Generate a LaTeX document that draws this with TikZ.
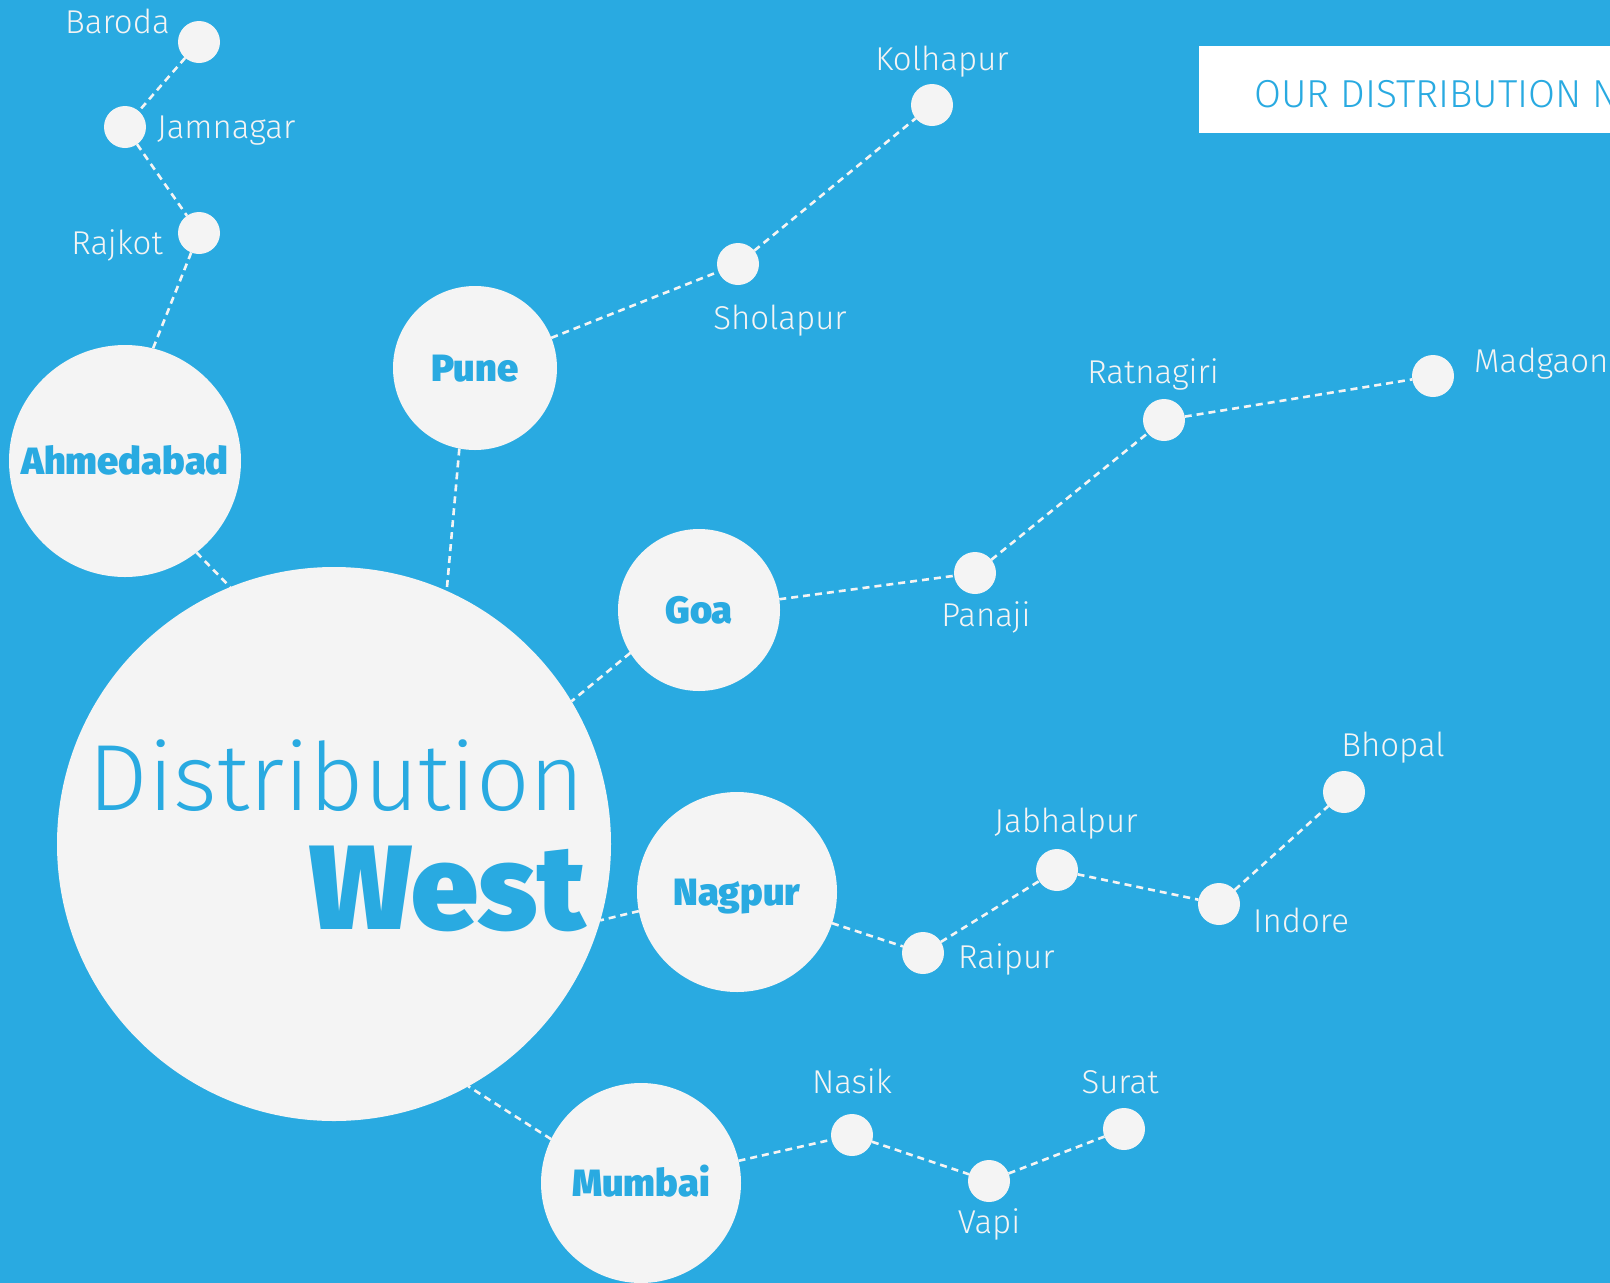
\documentclass[tikz,border=0pt]{standalone}
\usepackage{fontspec}
\setmainfont{Fira Sans}
\IfFontExistsTF{Fira Sans Light}{\newfontfamily\thinfont{Fira Sans Light}}{\newfontfamily\thinfont{Fira Sans}}
\IfFontExistsTF{Fira Sans Black}{\newfontfamily\heavyfont{Fira Sans Black}}{%
  \IfFontExistsTF{Fira Sans ExtraBold}{\newfontfamily\heavyfont{Fira Sans ExtraBold}}{\newfontfamily\heavyfont{Fira Sans}[FakeBold=2]}}
\definecolor{sky}{RGB}{41,170,225}
\definecolor{paper}{RGB}{244,244,244}
\begin{document}
\begin{tikzpicture}[x=1pt,y=-1pt,
    hub/.style={circle,fill=paper,inner sep=0,outer sep=0,text=sky,
      text height=26pt,text depth=0pt,font=\heavyfont\fontsize{38}{40}\selectfont},
    town/.style={circle,fill=paper,inner sep=0,outer sep=0,minimum size=42pt},
    townname/.style={inner sep=0,text=paper,font=\thinfont\fontsize{33}{36}\selectfont},
    link/.style={draw=paper,line width=2.6pt,dash pattern=on 7pt off 5pt}]
  \useasboundingbox (0,0) rectangle (1610,1283);
  \fill[sky] (0,0) rectangle (1610,1283);
  % title tab
  \fill[white] (1199,46) rectangle (1640,133);
  \node[anchor=base west,inner sep=0,text=sky,font=\thinfont\fontsize{39}{42}\selectfont]
    (title) at (1254,107) {OUR DISTRIBUTION N};
  % centre
  \node[circle,fill=paper,inner sep=0,outer sep=0,minimum size=554pt] (west) at (334,844) {};
  \node[anchor=base east,inner sep=0,text=sky,font=\thinfont\fontsize{94}{98}\selectfont]
    (distlabel) at (585,810) {Distribution};
  \node[anchor=base east,inner sep=0,text=sky,font=\heavyfont\fontsize{120}{124}\selectfont]
    (westlabel) at (586,929) {West};
  % hubs
  \node[hub,minimum size=232pt] (ahmedabad) at (125,461) {Ahmedabad};
  \node[hub,minimum size=164pt] (pune) at (475,368) {Pune};
  \node[hub,minimum size=162pt] (goa) at (699,610) {Goa};
  \node[hub,minimum size=200pt] (nagpur) at (737,892) {Nagpur};
  \node[hub,minimum size=200pt] (mumbai) at (641,1183) {Mumbai};
  % towns
  \node[town] (baroda) at (199,42) {};
  \node[town] (jamnagar) at (125,127) {};
  \node[town] (rajkot) at (199,233) {};
  \node[town] (kolhapur) at (932,105) {};
  \node[town] (sholapur) at (738,264) {};
  \node[town] (ratnagiri) at (1164,420) {};
  \node[town] (madgaon) at (1433,376) {};
  \node[town] (panaji) at (975,573) {};
  \node[town] (bhopal) at (1344,792) {};
  \node[town] (jabhalpur) at (1057,870) {};
  \node[town] (indore) at (1219,904) {};
  \node[town] (raipur) at (923,953) {};
  \node[town] (nasik) at (852,1135) {};
  \node[town] (vapi) at (989,1181) {};
  \node[town] (surat) at (1124,1129) {};
  % town names
  \node[townname,anchor=base east] (baroda-l) at (170,33) {Baroda};
  \node[townname,anchor=base west] (jamnagar-l) at (157,138) {Jamnagar};
  \node[townname,anchor=base east] (rajkot-l) at (163,254) {Rajkot};
  \node[townname,anchor=base] (kolhapur-l) at (942,70) {Kolhapur};
  \node[townname,anchor=base] (sholapur-l) at (780,329) {Sholapur};
  \node[townname,anchor=base] (ratnagiri-l) at (1153,383) {Ratnagiri};
  \node[townname,anchor=base west] (madgaon-l) at (1474,372) {Madgaon};
  \node[townname,anchor=base] (panaji-l) at (986,626) {Panaji};
  \node[townname,anchor=base] (bhopal-l) at (1393,756) {Bhopal};
  \node[townname,anchor=base] (jabhalpur-l) at (1066,832) {Jabhalpur};
  \node[townname,anchor=base west] (indore-l) at (1253,932) {Indore};
  \node[townname,anchor=base west] (raipur-l) at (958,968) {Raipur};
  \node[townname,anchor=base] (nasik-l) at (852,1093) {Nasik};
  \node[townname,anchor=base] (vapi-l) at (989,1233) {Vapi};
  \node[townname,anchor=base] (surat-l) at (1120,1093) {Surat};
  \begin{scope}[link]
    \draw (ahmedabad.-52.6) -- (west.112.4);
    \draw (pune.259.7) -- (west.66.3);
    \draw (goa.212.4) -- (west.31.4);
    \draw (nagpur.191.5) -- (west.-16.2);
    \draw (mumbai.154.7) -- (west.-61);
    \draw (baroda) -- (jamnagar);
    \draw (jamnagar) -- (rajkot);
    \draw (rajkot) -- (ahmedabad.76);
    \draw (pune) -- (sholapur);
    \draw (sholapur) -- (kolhapur);
    \draw (goa) -- (panaji);
    \draw (panaji) -- (ratnagiri);
    \draw (ratnagiri) -- (madgaon);
    \draw (nagpur) -- (raipur);
    \draw (raipur) -- (jabhalpur);
    \draw (jabhalpur) -- (indore);
    \draw (indore) -- (bhopal);
    \draw (mumbai) -- (nasik);
    \draw (nasik) -- (vapi);
    \draw (vapi) -- (surat);
  \end{scope}
\end{tikzpicture}
\end{document}
